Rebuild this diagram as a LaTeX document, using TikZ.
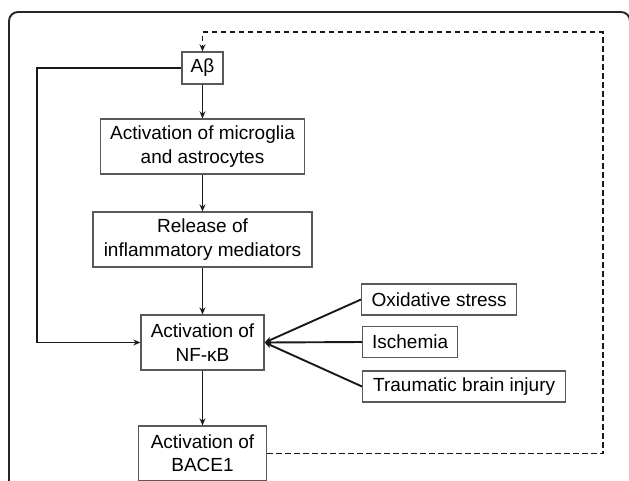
\documentclass[tikz,border=0pt]{standalone}
\usepackage{fontspec}
\setmainfont{Liberation Sans}
\usetikzlibrary{arrows.meta,positioning}

\begin{document}
\begin{tikzpicture}[x=1pt, y=1pt, >={Stealth[length=7pt,width=6pt]}]

	% Box and connector styles
	\tikzstyle{stage} = [rectangle, draw=black!65, line width=1.3pt, align=center, inner sep=0pt,
	font=\fontsize{19}{23.3}\selectfont, minimum height=55pt]
	\tikzstyle{cause} = [stage, minimum height=31pt, anchor=west]
	\tikzstyle{link} = [->, line width=1.9pt, black!90]

	\useasboundingbox (0,0) rectangle (629,-480);
	\draw[line width=1.9pt, black!85, rounded corners=9pt] (9,-12) rectangle (630,-520);

	% Main chain, top to bottom
	\node[stage, minimum width=41pt, minimum height=32pt] (abeta) at (202.5,-68) {Aβ};
	\node[stage, minimum width=204pt, node distance=78.5pt, below of=abeta] (micro) {Activation of microglia\\and astrocytes};
	\node[stage, minimum width=219pt, node distance=93pt, below of=micro] (release) {Release of\\inflammatory mediators};
	\node[stage, minimum width=123pt, node distance=103pt, below of=release] (nfkb) {Activation of\\NF-κB};
	\node[stage, minimum width=128pt, node distance=111pt, below of=nfkb] (bace) {Activation of\\BACE1};

	% Other triggers
	\node[cause, minimum width=155pt] (oxid) at (361,-299.5) {Oxidative stress};
	\node[cause, minimum width=95pt] (isch) at (362,-342) {Ischemia};
	\node[cause, minimum width=203pt] (trauma) at (362,-386.5) {Traumatic brain injury};

	% Arrows
	\draw[link] (abeta) -- (micro);
	\draw[link] (micro) -- (release);
	\draw[link] (release) -- (nfkb);
	\draw[link] (nfkb) -- (bace);
	\draw[link] (oxid.west) -- (nfkb.east);
	\draw[link] (isch.west) -- (nfkb.east);
	\draw[link] (trauma.west) -- (nfkb.east);
	\draw[link] (abeta.west) -- ++(-144,0) |- (nfkb.west);
	\draw[link, dash pattern=on 5.5pt off 3.5pt] (bace.east) -- ++(336,0) |- ([yshift=19pt]abeta.north) -- (abeta.north);

\end{tikzpicture}
\end{document}
